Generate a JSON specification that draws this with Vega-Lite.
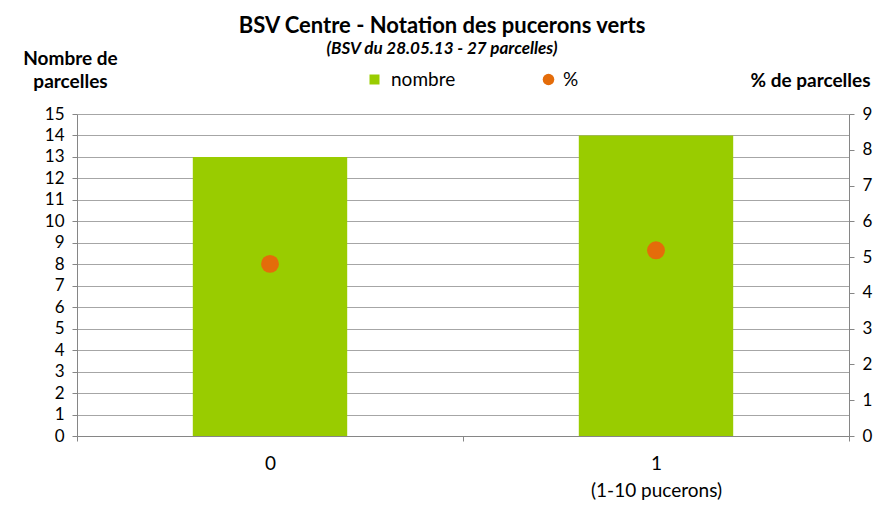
{
  "$schema": "https://vega.github.io/schema/vega-lite/v6.json",
  "width": 772,
  "height": 322,
  "autosize": {"type": "none"},
  "padding": {"left": 77, "top": 114, "right": 30, "bottom": 73},
  "background": "white",
  "config": {
    "font": "Lato",
    "view": {"stroke": null},
    "axis": {"labelFont": "Lato", "titleFont": "Lato", "labelColor": "#000000", "titleColor": "#000000", "domainColor": "#868686", "tickColor": "#868686", "labelFontSize": 17}
  },
  "title": {
    "text": "BSV Centre - Notation des pucerons verts",
    "subtitle": "(BSV du 28.05.13 - 27 parcelles)",
    "fontSize": 22,
    "fontWeight": "bold",
    "subtitleFontSize": 17,
    "subtitleFontWeight": "bold",
    "subtitleFontStyle": "italic",
    "subtitleColor": "#000000",
    "color": "#000000",
    "anchor": "middle",
    "dx": -21,
    "offset": -9,
    "subtitlePadding": 3
  },
  "data": {
    "values": [
      {"classe": "0", "nombre": 13, "pct": 4.81, "s1": "nombre", "s2": "%"},
      {"classe": "1", "nombre": 14, "pct": 5.19, "s1": "nombre", "s2": "%"}
    ]
  },
  "encoding": {
    "x": {
      "field": "classe",
      "type": "nominal",
      "sort": null,
      "scale": {"paddingInner": 0, "paddingOuter": 0},
      "axis": {
        "title": null,
        "labelAngle": 0,
        "tickBand": "extent",
        "tickSize": 5,
        "labelFontSize": 19,
        "labelPadding": 13,
        "labelLineHeight": 27,
        "labelExpr": "datum.value == '1' ? ['1', '(1-10 pucerons)'] : datum.label"
      }
    }
  },
  "layer": [
    {
      "mark": {"type": "bar", "width": {"band": 0.4}, "color": "#99CC00"},
      "encoding": {
        "y": {
          "field": "nombre",
          "type": "quantitative",
          "scale": {"domain": [0, 15], "nice": false},
          "axis": {
            "values": [0,1,2,3,4,5,6,7,8,9,10,11,12,13,14,15],
            "grid": true,
            "gridColor": "#a6a6a6",
            "tickSize": 5,
            "labelPadding": 8,
            "title": ["Nombre de", "parcelles"],
            "titleAngle": 0,
            "titleAlign": "center",
            "titleBaseline": "alphabetic",
            "titleFontSize": 19,
            "titleFontWeight": "bold",
            "titleLineHeight": 23,
            "titleX": -7,
            "titleY": -50
          }
        },
        "color": {
          "field": "s1",
          "type": "nominal",
          "scale": {"domain": ["nombre"], "range": ["#99CC00"]},
          "legend": {
            "title": null,
            "orient": "none",
            "legendX": 288,
            "legendY": -44,
            "symbolType": "square",
            "symbolSize": 100,
            "labelFontSize": 19,
            "labelFont": "Lato",
            "labelColor": "#000000",
            "labelOffset": 7
          }
        }
      }
    },
    {
      "mark": {"type": "point", "filled": true, "opacity": 1, "size": 320, "shape": "circle"},
      "encoding": {
        "y": {
          "field": "pct",
          "type": "quantitative",
          "scale": {"domain": [0, 9], "nice": false},
          "axis": {
            "orient": "right",
            "values": [0,1,2,3,4,5,6,7,8,9],
            "grid": false,
            "tickSize": 5,
            "labelPadding": 8,
            "title": "% de parcelles",
            "titleAngle": 0,
            "titleAlign": "center",
            "titleBaseline": "alphabetic",
            "titleFontSize": 19,
            "titleFontWeight": "bold",
            "titleX": -39,
            "titleY": -28
          }
        },
        "color": {
          "field": "s2",
          "type": "nominal",
          "scale": {"domain": ["%"], "range": ["#E46C0A"]},
          "legend": {
            "title": null,
            "orient": "none",
            "legendX": 462,
            "legendY": -44,
            "symbolType": "circle",
            "symbolSize": 133,
            "labelFontSize": 19,
            "labelFont": "Lato",
            "labelColor": "#000000",
            "labelOffset": 5
          }
        }
      }
    }
  ],
  "resolve": {"scale": {"y": "independent", "color": "independent"}}
}
